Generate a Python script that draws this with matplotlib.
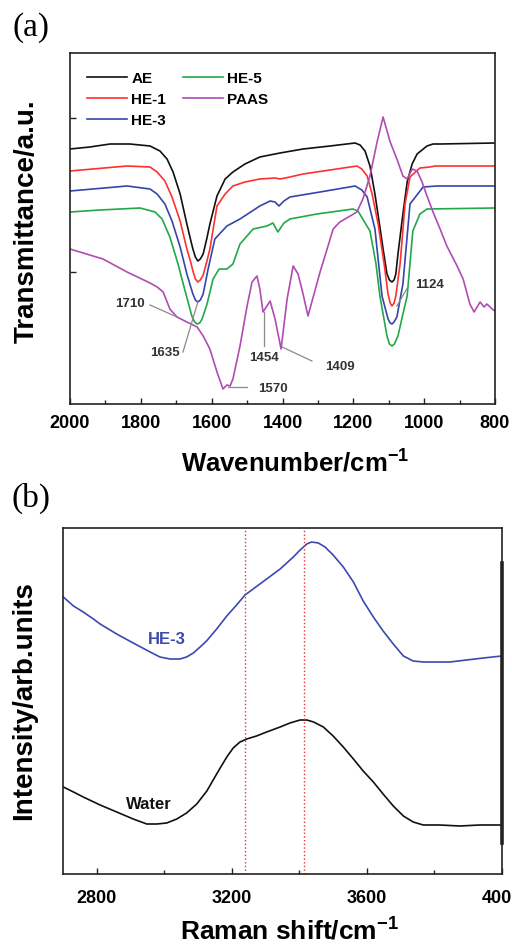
import matplotlib
matplotlib.use("Agg")
import matplotlib.pyplot as plt
from matplotlib.ticker import MultipleLocator, FixedLocator

plt.rcParams['font.family'] = ['Liberation Sans', 'DejaVu Sans']
plt.rcParams['mathtext.fontset'] = 'custom'
plt.rcParams['mathtext.rm'] = 'Liberation Sans:bold'
plt.rcParams['mathtext.bf'] = 'Liberation Sans:bold'
plt.rcParams['mathtext.it'] = 'Liberation Sans:bold'

# ---------------- Panel (a) FTIR data ----------------
ae_w = [2000, 1944, 1887, 1831, 1774, 1746, 1726, 1709, 1689, 1670, 1660, 1653, 1646, 1639,
        1632, 1624, 1614, 1605, 1585, 1562, 1540, 1506, 1464, 1407, 1342, 1266, 1195, 1181,
        1167, 1153, 1139, 1125, 1116, 1105, 1098, 1091, 1085, 1080, 1074, 1060, 1048, 1034,
        1020, 992, 975, 955, 800]
ae_t = [255, 257, 260, 260, 258, 253, 245, 232, 210, 180, 165, 155, 147, 143,
        145, 150, 165, 180, 208, 225, 232, 240, 247, 251, 255, 258, 261, 259,
        253, 238, 210, 177, 155, 130, 124, 122, 124, 130, 150, 190, 222, 240,
        250, 258, 260, 260, 261]

he1_w = [2000, 1839, 1774, 1754, 1732, 1712, 1689, 1670, 1660, 1653, 1646, 1639, 1632, 1624,
         1614, 1605, 1585, 1562, 1540, 1506, 1464, 1421, 1407, 1379, 1342, 1266, 1190, 1176,
         1161, 1147, 1130, 1113, 1102, 1096, 1091, 1085, 1080, 1068, 1054, 1040, 1012, 984,
         969, 800]
he1_t = [233, 238, 237, 232, 223, 207, 183, 155, 143, 133, 125, 122, 124, 129,
         142, 155, 198, 210, 218, 222, 225, 226, 225, 227, 230, 234, 238, 235,
         228, 210, 180, 140, 110, 101, 98, 101, 108, 140, 200, 227, 236, 237,
         238, 238]

he3_w = [2000, 1839, 1774, 1754, 1732, 1712, 1689, 1670, 1660, 1653, 1646, 1639, 1632, 1624,
         1610, 1591, 1557, 1520, 1464, 1435, 1421, 1410, 1396, 1379, 1294, 1195, 1176, 1161,
         1139, 1119, 1102, 1096, 1091, 1085, 1077, 1060, 1040, 1003, 964, 800]
he3_t = [213, 218, 215, 210, 200, 183, 157, 130, 118, 110, 104, 102, 104, 110,
         135, 165, 178, 185, 198, 203, 202, 198, 203, 207, 212, 218, 214, 207,
         175, 108, 85, 81, 80, 82, 87, 120, 200, 217, 218, 218]

he5_w = [2000, 1915, 1802, 1760, 1740, 1718, 1695, 1675, 1656, 1648, 1641, 1634, 1627, 1613,
         1596, 1579, 1557, 1540, 1520, 1483, 1444, 1427, 1413, 1396, 1379, 1303, 1201, 1187,
         1170, 1153, 1136, 1125, 1105, 1098, 1091, 1084, 1074, 1060, 1048, 1032, 1012, 992,
         800]
he5_t = [192, 194, 196, 192, 185, 167, 140, 113, 88, 82, 80, 81, 85, 100,
         125, 135, 135, 140, 160, 175, 178, 181, 172, 181, 185, 190, 195, 193,
         183, 173, 140, 108, 68, 60, 58, 60, 68, 90, 108, 173, 190, 195,
         196]

paas_w = [2000, 1907, 1839, 1774, 1754, 1737, 1718, 1698, 1670, 1641, 1624, 1605, 1585, 1568,
          1557, 1548, 1540, 1520, 1500, 1486, 1472, 1464, 1455, 1435, 1421, 1404, 1387, 1370,
          1356, 1342, 1328, 1311, 1294, 1274, 1257, 1238, 1209, 1190, 1173, 1153, 1133, 1116,
          1096, 1077, 1060, 1048, 1034, 1020, 1006, 992, 975, 955, 936, 907, 890, 871, 859,
          842, 831, 823, 808, 800]
paas_t = [155, 145, 132, 121, 117, 112, 95, 87, 82, 77, 68, 55, 32, 15,
          19, 18, 25, 58, 98, 122, 128, 115, 92, 103, 85, 55, 105, 138,
          130, 110, 88, 110, 132, 155, 175, 182, 188, 192, 205, 228, 262, 287,
          262, 245, 228, 225, 235, 233, 222, 208, 192, 175, 158, 138, 125, 100, 92,
          102, 97, 100, 95, 93]

series_a = [("AE", ae_w, ae_t, "#111111"),
            ("HE-1", he1_w, he1_t, "#ff3030"),
            ("HE-3", he3_w, he3_t, "#3546a8"),
            ("HE-5", he5_w, he5_t, "#22a84a"),
            ("PAAS", paas_w, paas_t, "#b04cb2")]

# peak annotations: label, text position (w, T), line start, line end
peaks = [("1710", (1831, 101), (1774, 99), (1698, 87)),
         ("1635", (1732, 52), (1681, 52), (1639, 102)),
         ("1454", (1452, 47), (1452, 58), (1452, 92)),
         ("1409", (1238, 38), (1317, 43), (1401, 57)),
         ("1570", (1427, 16), (1500, 17), (1554, 17)),
         ("1124", (986, 120), (1046, 117), (1077, 98))]

# ---------------- Panel (b) Raman data ----------------
he3r_w = [2701, 2731, 2760, 2790, 2810, 2859, 2908, 2958, 2987, 3017, 3046, 3066, 3086, 3106,
          3125, 3155, 3185, 3214, 3239, 3263, 3303, 3343, 3382, 3402, 3422, 3436, 3456, 3476,
          3500, 3530, 3560, 3589, 3619, 3648, 3678, 3708, 3737, 3767, 3797, 3846, 3895, 3945,
          3999]
he3r_i = [277, 268, 262, 255, 250, 240, 231, 222, 217, 215, 215, 217, 221, 227,
          233, 245, 258, 269, 279, 285, 295, 305, 317, 324, 330, 332, 331, 327,
          319, 307, 292, 273, 257, 243, 230, 218, 213, 212, 212, 212, 214, 216,
          218]

water_w = [2701, 2731, 2760, 2810, 2859, 2908, 2948, 2978, 3007, 3037, 3066, 3096, 3126, 3155,
           3185, 3204, 3224, 3244, 3273, 3303, 3343, 3372, 3402, 3422, 3442, 3471, 3500, 3530,
           3560, 3589, 3619, 3648, 3678, 3708, 3737, 3767, 3816, 3875, 3934, 3999]
water_i = [87, 82, 77, 69, 62, 55, 50, 50, 51, 55, 61, 70, 83, 100,
           117, 126, 132, 135, 138, 142, 147, 151, 154, 154, 152, 147, 138, 127,
           115, 103, 92, 80, 68, 58, 52, 49, 49, 48, 49, 49]

raman_marks = [3240, 3415]

# ---------------- Figure ----------------
fig = plt.figure(figsize=(5.12, 9.45), dpi=100)

ax1 = fig.add_axes([70/512, 1-405/945, 425/512, 351/945])
for name, w, t, c in series_a:
    ax1.plot(w, t, color=c, lw=1.2, label=name)
ax1.set_xlim(2000, 800)
ax1.set_ylim(0, 351)
ax1.xaxis.set_major_locator(MultipleLocator(200))
ax1.xaxis.set_minor_locator(MultipleLocator(100))
ax1.yaxis.set_major_locator(FixedLocator([132, 286]))
ax1.set_yticklabels([])
ax1.tick_params(axis='both', which='both', direction='in', width=1.0, color='#222222')
ax1.tick_params(axis='x', which='major', length=4, pad=7, labelsize=13)
ax1.tick_params(axis='x', which='minor', length=3)
ax1.tick_params(axis='y', which='major', length=4)
for lab in ax1.get_xticklabels():
    lab.set_fontweight('bold')
for s in ax1.spines.values():
    s.set_linewidth(1.2)
    s.set_color('#222222')

for lab, tp, p0, p1 in peaks:
    ax1.plot([p0[0], p1[0]], [p0[1], p1[1]], color='#8a8a8a', lw=0.9, zorder=4)
    ax1.text(tp[0], tp[1], lab, ha='center', va='center', fontsize=9.5,
             fontweight='bold', color='#333333', zorder=4)

leg = ax1.legend(ncol=2, loc='upper left', bbox_to_anchor=(0.04, 0.948), frameon=False,
                 borderpad=0, borderaxespad=0, handlelength=2.6, handletextpad=0.3,
                 columnspacing=1.1, labelspacing=0.45,
                 prop={'weight': 'bold', 'size': 11})

fig.text(27/512, 1-221.5/945, "Transmittance/a.u.", rotation=90, ha='center', va='center',
         fontsize=20, fontweight='bold')
fig.text(295/512, 1-472/945, r"Wavenumber/cm$^{-1}$", ha='center', va='baseline',
         fontsize=18.5, fontweight='bold')
fig.text(31/512, 1-28/945, "(a)", ha='center', va='center', fontsize=24,
         family=['Liberation Serif', 'DejaVu Serif'])

ax2 = fig.add_axes([63/512, 1-875/945, 439/512, 346/945])
ax2.plot(he3r_w, he3r_i, color='#3a4aae', lw=1.2)
ax2.plot(water_w, water_i, color='#111111', lw=1.2)
for m in raman_marks:
    ax2.axvline(m, color='#e03535', ls=':', lw=1.0)
ax2.set_xlim(2700, 4000)
ax2.set_ylim(0, 346)
ax2.xaxis.set_major_locator(MultipleLocator(400))
ax2.xaxis.set_minor_locator(MultipleLocator(200))
ax2.set_yticks([])
ax2.tick_params(axis='x', which='both', direction='in', width=1.0, color='#222222')
ax2.tick_params(axis='x', which='major', length=4, pad=11, labelsize=13)
ax2.tick_params(axis='x', which='minor', length=3)
for lab in ax2.get_xticklabels():
    lab.set_fontweight('bold')
for s in ax2.spines.values():
    s.set_linewidth(1.2)
    s.set_color('#222222')
ax2.plot([1, 1], [0.09, 0.90], transform=ax2.transAxes, color='#222222', lw=2.6,
         clip_on=False)
ax2.text(3008, 235, "HE-3", color='#3a4aae', fontsize=12, fontweight='bold',
         ha='center', va='center')
ax2.text(2955, 70, "Water", color='#111111', fontsize=12, fontweight='bold',
         ha='center', va='center')

fig.text(24/512, 1-701/945, "Intensity/arb.units", rotation=90, ha='center', va='center',
         fontsize=20, fontweight='bold')
fig.text(290/512, 1-940/945, r"Raman shift/cm$^{-1}$", ha='center', va='baseline',
         fontsize=19, fontweight='bold')
fig.text(31/512, 1-498/945, "(b)", ha='center', va='center', fontsize=24,
         family=['Liberation Serif', 'DejaVu Serif'])

fig.savefig("out.png", dpi=100)
